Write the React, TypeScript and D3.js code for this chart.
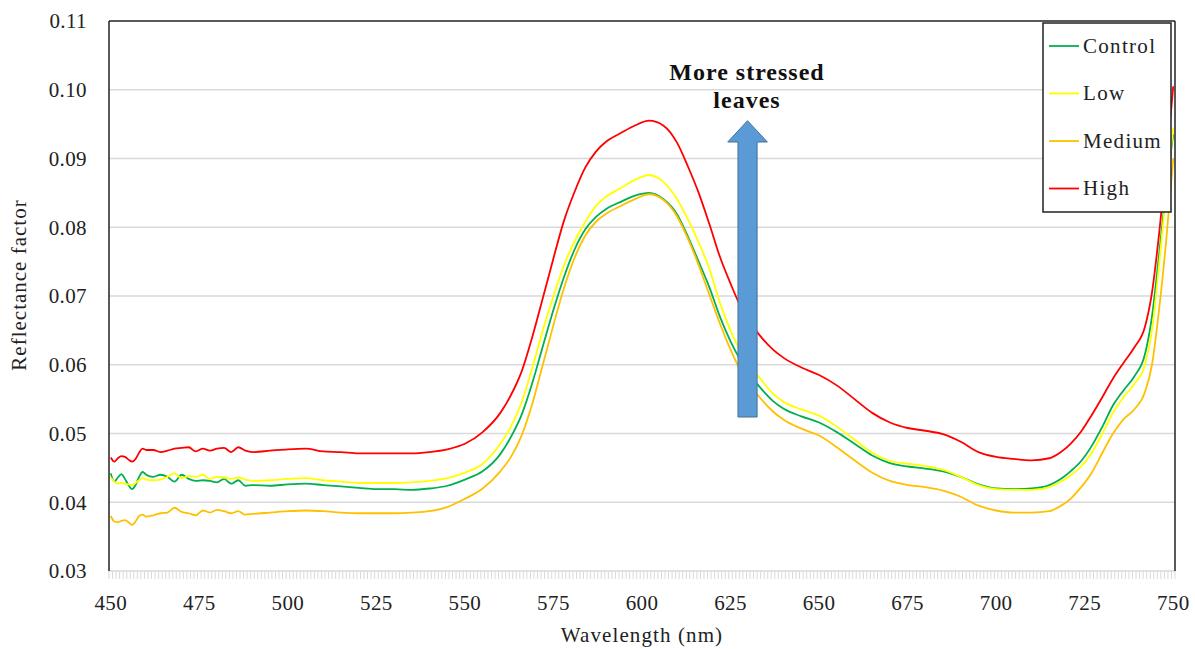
import React from "react";
import * as d3 from "d3";

const wavelengths = [450,451,452,453,454,455,456,457,458,459,460,462,464,466,468,470,472,474,476,478,480,482,484,486,488,490,495,500,505,510,515,520,525,530,535,540,545,550,555,560,563,566,569,572,575,578,581,584,587,590,594,598,602,606,610,613,616,619,622,625,628,631,634,637,640,645,650,655,660,665,670,675,680,685,690,695,700,705,710,715,718,721,724,727,730,733,736,739,742,744,746,748,750];

const control = [0.0442,0.0430,0.0436,0.0441,0.0434,0.0425,0.0419,0.0425,0.0437,0.0444,0.0440,0.0437,0.0440,0.0437,0.0430,0.0440,0.0434,0.0431,0.0432,0.0431,0.0429,0.0434,0.0427,0.0432,0.0424,0.0425,0.0424,0.0426,0.0427,0.0425,0.0423,0.0421,0.0419,0.0419,0.0418,0.0420,0.0424,0.0433,0.0445,0.0470,0.0495,0.0527,0.0573,0.0627,0.0680,0.0728,0.0768,0.0797,0.0815,0.0827,0.0837,0.0846,0.0850,0.0841,0.0818,0.0786,0.0750,0.0713,0.0670,0.0634,0.0605,0.0582,0.0563,0.0547,0.0536,0.0525,0.0516,0.0502,0.0485,0.0468,0.0457,0.0452,0.0449,0.0445,0.0437,0.0426,0.0420,0.0419,0.0420,0.0425,0.0433,0.0445,0.0460,0.0482,0.0510,0.0541,0.0563,0.0583,0.0615,0.0670,0.0760,0.0855,0.0935];

const low = [0.0436,0.0430,0.0427,0.0428,0.0427,0.0426,0.0425,0.0428,0.0432,0.0435,0.0433,0.0432,0.0433,0.0437,0.0442,0.0435,0.0438,0.0437,0.0440,0.0434,0.0437,0.0436,0.0434,0.0436,0.0433,0.0431,0.0432,0.0434,0.0435,0.0432,0.0430,0.0428,0.0428,0.0428,0.0429,0.0431,0.0435,0.0443,0.0456,0.0485,0.0510,0.0545,0.0595,0.0650,0.0700,0.0745,0.0780,0.0808,0.0831,0.0845,0.0857,0.0869,0.0876,0.0866,0.0840,0.0811,0.0778,0.0740,0.0690,0.0650,0.0618,0.0595,0.0576,0.0558,0.0546,0.0535,0.0526,0.0510,0.0491,0.0472,0.0460,0.0456,0.0453,0.0447,0.0437,0.0425,0.0419,0.0418,0.0418,0.0422,0.0429,0.0439,0.0452,0.0472,0.0500,0.0530,0.0553,0.0572,0.0600,0.0650,0.0745,0.0850,0.0945];

const medium = [0.0380,0.0372,0.0371,0.0373,0.0374,0.0371,0.0367,0.0372,0.0380,0.0382,0.0379,0.0381,0.0384,0.0385,0.0392,0.0386,0.0384,0.0381,0.0388,0.0385,0.0389,0.0387,0.0384,0.0387,0.0382,0.0383,0.0385,0.0387,0.0388,0.0387,0.0385,0.0384,0.0384,0.0384,0.0385,0.0387,0.0393,0.0405,0.0420,0.0445,0.0466,0.0497,0.0543,0.0600,0.0658,0.0712,0.0756,0.0788,0.0808,0.0820,0.0831,0.0841,0.0848,0.0840,0.0815,0.0783,0.0745,0.0702,0.0660,0.0622,0.0590,0.0567,0.0548,0.0532,0.0520,0.0507,0.0497,0.0480,0.0461,0.0443,0.0431,0.0425,0.0422,0.0417,0.0408,0.0395,0.0388,0.0385,0.0385,0.0387,0.0394,0.0405,0.0422,0.0443,0.0472,0.0500,0.0521,0.0535,0.0560,0.0600,0.0680,0.0780,0.0900];

const high = [0.0465,0.0459,0.0464,0.0467,0.0466,0.0462,0.0459,0.0463,0.0472,0.0478,0.0476,0.0476,0.0473,0.0475,0.0478,0.0479,0.0480,0.0474,0.0478,0.0475,0.0478,0.0479,0.0473,0.0480,0.0475,0.0473,0.0475,0.0477,0.0478,0.0474,0.0473,0.0471,0.0471,0.0471,0.0471,0.0473,0.0477,0.0485,0.0502,0.0530,0.0556,0.0590,0.0640,0.0697,0.0755,0.0810,0.0852,0.0887,0.0910,0.0925,0.0937,0.0948,0.0955,0.0948,0.0922,0.0888,0.0850,0.0805,0.0757,0.0718,0.0683,0.0658,0.0638,0.0622,0.0610,0.0596,0.0585,0.0570,0.0550,0.0530,0.0516,0.0508,0.0504,0.0499,0.0488,0.0473,0.0466,0.0463,0.0461,0.0464,0.0472,0.0485,0.0503,0.0527,0.0553,0.0580,0.0603,0.0625,0.0655,0.0705,0.0790,0.0890,0.1005];

const seriesNames = ["Control", "Low", "Medium", "High"];
const seriesColors = ["#00B050", "#FFFF00", "#FFC000", "#FF0000"];
const seriesValues = [control, low, medium, high];

const xTickLabels = [450, 475, 500, 525, 550, 575, 600, 625, 650, 675, 700, 725, 750];
const yTickLabels = [0.03, 0.04, 0.05, 0.06, 0.07, 0.08, 0.09, 0.10, 0.11];

const annotationLines = ["More stressed", "leaves"];

const FONT = "'Liberation Serif', 'Times New Roman', serif";

export default function App() {
  const W = 1195, H = 649;
  const left = 109, right = 1175, top = 21, bottom = 571;
  const x = d3.scaleLinear().domain([449.5, 750.5]).range([left, right]);
  const y = d3.scaleLinear().domain([0.03, 0.11]).range([bottom, top]);
  const line = d3.line<number>()
    .x((_, i) => x(wavelengths[i]))
    .y((d) => y(d))
    .curve(d3.curveMonotoneX);

  const minorTicks = d3.range(0, 302).map((k) => 449.5 + k);

  // arrow annotation in data units
  const ax = 629.8;
  const shaftHalf = 2.7; // nm
  const headHalf = 5.6; // nm
  const yBottom = 0.0524, yHead = 0.0924, yTip = 0.0955;
  const arrowPts = [
    [x(ax - shaftHalf), y(yBottom)],
    [x(ax - shaftHalf), y(yHead)],
    [x(ax - headHalf), y(yHead)],
    [x(ax), y(yTip)],
    [x(ax + headHalf), y(yHead)],
    [x(ax + shaftHalf), y(yHead)],
    [x(ax + shaftHalf), y(yBottom)],
  ];

  return (
    <svg width={W} height={H} style={{ position: "absolute", left: 0, top: 0, background: "#fff" }} fontFamily={FONT}>
      {/* grid */}
      {yTickLabels.slice(1, -1).map((v) => (
        <line key={v} x1={left} x2={right} y1={y(v)} y2={y(v)} stroke="#D9D9D9" strokeWidth={1.5} />
      ))}
      {/* minor ticks on x axis */}
      {minorTicks.map((t) => (
        <line key={t} x1={x(t)} x2={x(t)} y1={bottom} y2={bottom + 8} stroke="#D9D9D9" strokeWidth={1} />
      ))}
      <line x1={left} x2={right} y1={bottom} y2={bottom} stroke="#D9D9D9" strokeWidth={1.5} />
      {/* frame */}
      <line x1={left} x2={right} y1={top} y2={top} stroke="#222" strokeWidth={1.5} />
      <line x1={left} x2={left} y1={top} y2={bottom} stroke="#222" strokeWidth={1.5} />
      <line x1={right} x2={right} y1={top} y2={bottom} stroke="#222" strokeWidth={1.5} />

      {/* series */}
      {seriesValues.map((vals, i) => (
        <path key={seriesNames[i]} d={line(vals) || ""} fill="none" stroke={seriesColors[i]} strokeWidth={1.8} />
      ))}

      {/* y tick labels */}
      {yTickLabels.map((v) => (
        <text key={v} x={87} y={y(v)} dy="0.35em" textAnchor="end" fontSize={21} letterSpacing={0.4} fill="#222">{v.toFixed(2)}</text>
      ))}
      {/* x tick labels */}
      {xTickLabels.map((t) => (
        <text key={t} x={x(t)} y={610} textAnchor="middle" fontSize={21} letterSpacing={0.4} fill="#222">{t}</text>
      ))}
      <text x={642} y={642} textAnchor="middle" fontSize={21} letterSpacing={1.1} fill="#222">Wavelength (nm)</text>
      <text transform={`translate(26,${285}) rotate(-90)`} textAnchor="middle" fontSize={21} letterSpacing={1} fill="#222">Reflectance factor</text>

      {/* arrow */}
      <polygon points={arrowPts.map((p) => p.join(",")).join(" ")} fill="#5B9BD5" stroke="#41719C" strokeWidth={1} />
      {annotationLines.map((s, i) => (
        <text key={s} x={747} y={80 + i * 28} textAnchor="middle" fontSize={24} fontWeight="bold" letterSpacing={1} fill="#111">{s}</text>
      ))}

      {/* legend */}
      <rect x={1043} y={23} width={128} height={189} fill="#fff" stroke="#222" strokeWidth={1.5} />
      {seriesNames.map((n, i) => (
        <g key={n}>
          <line x1={1049} x2={1079} y1={46 + i * 47.5} y2={46 + i * 47.5} stroke={seriesColors[i]} strokeWidth={1.8} />
          <text x={1083} y={46 + i * 47.5} dy="0.33em" fontSize={21} letterSpacing={1.3} fill="#222">{n}</text>
        </g>
      ))}
    </svg>
  );
}
